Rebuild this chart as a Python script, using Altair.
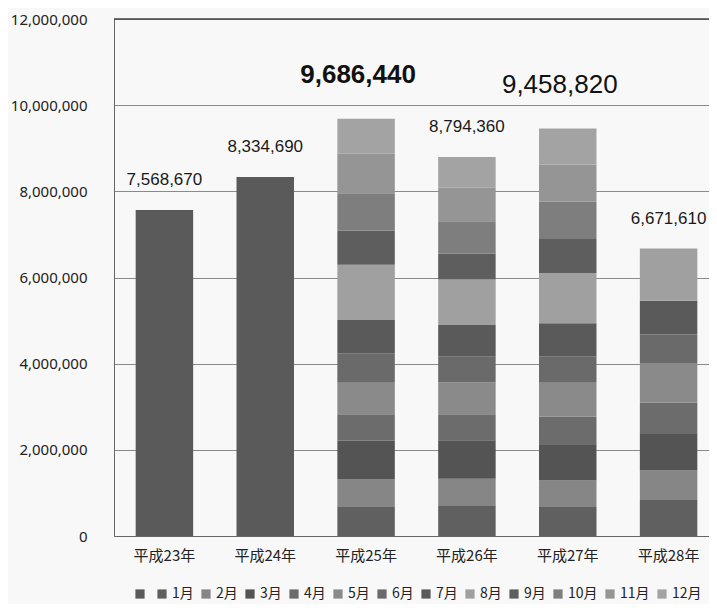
import altair as alt
import pandas as pd

years = ["平成23年", "平成24年", "平成25年", "平成26年", "平成27年", "平成28年"]
totals = [7568670, 8334690, 9686440, 8794360, 9458820, 6671610]
series = [" ", "1月", "2月", "3月", "4月", "5月", "6月", "7月", "8月", "9月", "10月", "11月", "12月"]
colors = ["#5a5a5a", "#606060", "#868686", "#545454", "#6c6c6c", "#8a8a8a", "#6a6a6a",
          "#5a5a5a", "#a0a0a0", "#5e5e5e", "#7e7e7e", "#959595", "#a3a3a3"]

# annual totals only (no monthly breakdown)
h23_total = 7568670
h24_total = 8334690
# monthly values, Jan..
h25 = [675000, 638000, 899000, 615000, 728000, 684000, 776000, 1281000, 793000, 866000, 915000, 816440]
h26 = [714000, 615000, 894000, 604000, 744000, 599000, 730000, 1051000, 608000, 744000, 783000, 708360]
h27 = [675000, 615000, 825000, 650000, 790000, 615000, 767000, 1168000, 790000, 862000, 866000, 835820]
h28 = [853000, 668000, 846000, 728000, 922000, 661000, 783000, 1210610]

big_labels = ["平成25年", "平成27年"]
top_value = [12000000]

rows = [
    {"year": years[0], "series": series[0], "idx": 0, "value": h23_total},
    {"year": years[1], "series": series[0], "idx": 0, "value": h24_total},
]
for yr, vals in zip(years[2:], [h25, h26, h27, h28]):
    for i, v in enumerate(vals):
        rows.append({"year": yr, "series": series[i + 1], "idx": i + 1, "value": v})
df = pd.DataFrame(rows)
tot = pd.DataFrame({"year": years, "total": totals})
topdf = pd.DataFrame({"v": top_value})

xscale = alt.Scale(domain=years, range=[0, 605], paddingInner=0.43, paddingOuter=0.215)
xenc = alt.X("year:N", sort=years, title=None, scale=xscale,
             axis=alt.Axis(labelAngle=0, labelFont="Noto Sans CJK JP", labelFontSize=15,
                           labelColor="#222222", ticks=False, domain=True, domainColor="#666666",
                           labelPadding=12))

bars = alt.Chart(df).mark_bar().encode(
    x=xenc,
    y=alt.Y("value:Q", stack="zero", title=None,
            scale=alt.Scale(domain=[0, 12000000], nice=False),
            axis=alt.Axis(values=[0, 2000000, 4000000, 6000000, 8000000, 10000000, 12000000],
                          format=",d", labelFont="Noto Sans", labelFontSize=15,
                          labelColor="#222222", ticks=False, domain=True, domainColor="#666666",
                          labelPadding=27, gridColor="#8a8a8a", gridWidth=1)),
    color=alt.Color("series:N", scale=alt.Scale(domain=series, range=colors),
                    legend=alt.Legend(orient="none", legendX=19, legendY=568, direction="horizontal",
                                      title=None, symbolType="square", symbolSize=85,
                                      symbolStrokeWidth=0, labelFont="Noto Sans CJK JP",
                                      labelFontSize=14, labelColor="#222222", labelOffset=3,
                                      columnPadding=5)),
    order=alt.Order("idx:Q", sort="ascending"),
)

topline = alt.Chart(topdf).mark_rule(color="#444444", strokeWidth=1.3).encode(y=alt.Y("v:Q"))

normal = alt.Chart(tot).transform_filter(
    ~alt.FieldOneOfPredicate(field="year", oneOf=big_labels)
).mark_text(font="Liberation Sans", fontSize=17, dy=-30, baseline="middle", color="#1a1a1a").encode(
    x=alt.X("year:N", sort=years, scale=xscale),
    y=alt.Y("total:Q"),
    text=alt.Text("total:Q", format=","),
)

big1 = alt.Chart(tot).transform_filter(
    alt.FieldEqualPredicate(field="year", equal=big_labels[0])
).mark_text(font="Liberation Sans", fontSize=26, fontWeight="bold", dy=-44, dx=-8,
            baseline="middle", color="#111111").encode(
    x=alt.X("year:N", sort=years, scale=xscale),
    y=alt.Y("total:Q"),
    text=alt.Text("total:Q", format=","),
)

big2 = alt.Chart(tot).transform_filter(
    alt.FieldEqualPredicate(field="year", equal=big_labels[1])
).mark_text(font="Liberation Sans", fontSize=26, dy=-43, dx=-8,
            baseline="middle", color="#111111").encode(
    x=alt.X("year:N", sort=years, scale=xscale),
    y=alt.Y("total:Q"),
    text=alt.Text("total:Q", format=","),
)

chart = alt.layer(bars, topline, normal, big1, big2).properties(
    width=595, height=517,
    padding={"left": 106, "top": 11, "right": 0, "bottom": 68},
    autosize="none",
).configure(background="#f8f8f8").configure_view(strokeWidth=0)

chart.save("out.html", embed_options={"renderer": "svg", "actions": False})
